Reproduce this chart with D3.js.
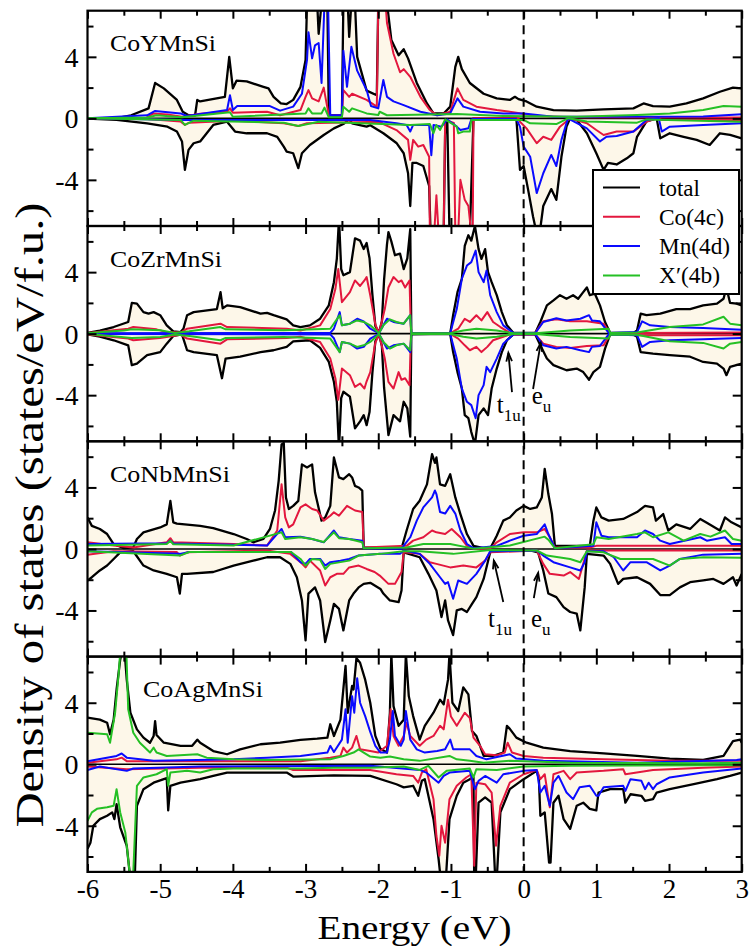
<!DOCTYPE html>
<html>
<head>
<meta charset="utf-8">
<script src="https://cdn.jsdelivr.net/npm/d3@7"></script>
<style>
  body{margin:0;background:#fff;}
</style>
</head>
<body>
<div id="chart"></div>
<script>
// ---- data: [energy (eV), DOS (states/eV/f.u.)], spin up > 0, spin down < 0 ----
const panelNames = ['CoYMnSi','CoZrMnSi','CoNbMnSi','CoAgMnSi'];
const legendLabels = ['total','Co(4c)','Mn(4d)','X\u2032(4b)'];
const xMajor = [-6,-5,-4,-3,-2,-1,0,1,2,3];
const xMinor = [-5.5,-4.5,-3.5,-2.5,-1.5,-0.5,0.5,1.5,2.5];
const yMajor = [-4,0,4];
const yMinor = [-6,-2,2,6];

// CoYMnSi
const totUp1=[[-6,0],[-5.6,0.02],[-5.4,0.2],[-5.16,0.65],[-5.07,2.3],[-4.95,1.95],[-4.77,1.2],[-4.69,0.43],[-4.61,0.2],[-4.52,0.2],[-4.49,1.2],[-4.45,1.1],[-4.11,1.4],[-4.05,4.0],[-4.0,1.95],[-3.95,2.45],[-3.81,2.4],[-3.58,2.05],[-3.51,1.95],[-3.44,1.4],[-3.34,0.97],[-3.26,0.93],[-3.17,1.2],[-3.07,2.05],[-3.0,3.8],[-2.98,7.5],[-2.84,7.5],[-2.82,5.5],[-2.78,7.5],[-2.7,7.5],[-2.68,0.2],[-2.5,0.2],[-2.48,7.5],[-2.42,7.5],[-2.4,5.3],[-2.37,7.5],[-2.32,7.5],[-2.29,4.0],[-2.16,1.8],[-2.02,1.5],[-2.0,7.5],[-1.88,7.5],[-1.82,5.1],[-1.72,4.1],[-1.65,4.5],[-1.59,3.9],[-1.47,2.3],[-1.33,0.97],[-1.24,0.32],[-1.1,0.32],[-1.01,0.76],[-0.94,3.35],[-0.9,4.0],[-0.85,3.2],[-0.74,2.3],[-0.55,1.6],[-0.37,1.3],[-0.19,1.2],[-0.12,1.4],[-0.07,1.25],[0.04,1.1],[0.18,0.76],[0.41,0.54],[0.73,0.5],[1.1,0.58],[1.51,0.65],[1.65,0.97],[1.78,0.8],[2.01,0.76],[2.24,0.97],[2.47,1.3],[2.7,1.73],[2.88,2.0],[3.0,1.95]];
const coUp1=[[-6,0],[-5.2,0.02],[-5.09,0.32],[-4.9,0.25],[-4.7,0.1],[-4.45,0.3],[-4.08,0.43],[-4.04,0.65],[-4.0,0.37],[-3.53,0.43],[-3.35,0.2],[-3.07,0.54],[-3.0,1.4],[-2.96,1.84],[-2.91,1.3],[-2.82,1.1],[-2.75,2.0],[-2.72,1.2],[-2.68,0.2],[-2.5,0.2],[-2.48,1.84],[-2.4,1.4],[-2.36,1.6],[-2.16,1.2],[-2.02,0.76],[-2.0,7.5],[-1.9,7.5],[-1.88,6.2],[-1.79,4.2],[-1.7,3.0],[-1.65,3.2],[-1.56,2.7],[-1.42,1.4],[-1.29,0.54],[-1.19,0.2],[-1.01,0.43],[-0.91,1.95],[-0.83,1.2],[-0.65,0.76],[-0.37,0.54],[-0.1,0.37],[0.18,0.15],[0.64,0.07],[3.0,0.05]];
const mnUp1=[[-6,0],[-5.18,0.2],[-5.07,0.48],[-4.72,0.32],[-4.63,0.15],[-4.45,0.28],[-4.08,0.54],[-4.04,1.5],[-4.0,0.54],[-3.94,0.8],[-3.49,0.8],[-3.35,0.5],[-3.17,0.76],[-3.05,1.6],[-2.98,3.8],[-2.96,5.6],[-2.91,3.9],[-2.87,4.75],[-2.82,4.9],[-2.78,2.3],[-2.74,7.5],[-2.69,7.5],[-2.66,0.2],[-2.5,0.2],[-2.48,4.4],[-2.43,2.05],[-2.37,4.65],[-2.29,3.1],[-2.16,1.84],[-2.1,0.8],[-2.0,0.65],[-1.93,2.5],[-1.88,1.4],[-1.79,1.1],[-1.65,0.86],[-1.42,0.43],[-1.19,0.2],[-1.01,0.32],[-0.91,1.3],[-0.83,0.76],[-0.6,0.43],[-0.28,0.32],[0,0.32],[0.41,0.1],[2.47,0.12],[3.0,0.26]];
const xUp1=[[-6,0],[-5.18,0.05],[-5.05,0.2],[-4.7,0.07],[-4.04,0.4],[-4.0,0.1],[-3.0,0.32],[-2.96,0.65],[-2.91,0.32],[-2.78,0.32],[-2.74,0.7],[-2.68,0.07],[-2.5,0.07],[-2.48,0.76],[-2.4,0.43],[-2.36,0.65],[-2.16,0.32],[-2.0,0.22],[-1.98,0.43],[-1.88,0.2],[-0.92,0.28],[-0.28,0.15],[0.73,0.1],[1.56,0.22],[2.01,0.32],[2.47,0.54],[2.75,0.8],[3.0,0.76]];
const totDn1=[[-6,-0.02],[-5.6,-0.1],[-5.18,-0.32],[-4.9,-0.54],[-4.77,-0.86],[-4.7,-1.5],[-4.66,-3.35],[-4.61,-2.05],[-4.54,-1.62],[-4.45,-1.5],[-4.27,-0.43],[-4.08,-0.22],[-3.97,-0.86],[-3.81,-0.97],[-3.53,-0.97],[-3.39,-1.2],[-3.3,-1.84],[-3.26,-2.16],[-3.17,-2.27],[-3.1,-3.24],[-3.05,-2.27],[-2.94,-1.73],[-2.75,-1.08],[-2.61,-0.65],[-2.48,-0.37],[-2.4,-0.07],[-2.36,-0.32],[-2.16,-0.54],[-2.11,-0.45],[-1.93,-0.97],[-1.75,-1.6],[-1.65,-2.27],[-1.59,-3.57],[-1.56,-5.7],[-1.53,-2.9],[-1.47,-2.9],[-1.38,-3.1],[-1.3,-4.4],[-1.28,-7.5],[-1.1,-7.5],[-1.08,-1.0],[-1.05,-0.2],[-1.02,-7.5],[-0.74,-7.5],[-0.69,0],[-0.1,0],[-0.05,-3.35],[0,-3.1],[0.06,-4.6],[0.13,-6.4],[0.18,-7.5],[0.22,-7.5],[0.27,-5.7],[0.38,-4.6],[0.45,-5.3],[0.52,-2.5],[0.59,-0.54],[0.64,0],[0.73,-0.1],[0.87,-0.97],[1.0,-2.27],[1.1,-3.35],[1.16,-2.9],[1.28,-3.0],[1.42,-2.6],[1.51,-2.27],[1.56,-1.2],[1.69,-0.2],[1.83,0],[1.88,-1.3],[2.01,-0.97],[2.2,-1.2],[2.38,-1.4],[2.56,-1.73],[2.7,-0.97],[2.84,-1.08],[3.0,-1.3]];
const coDn1=[[-6,0],[-5.18,-0.05],[-4.72,-0.2],[-4.66,-0.43],[-4.6,-0.28],[-4.0,-0.15],[-3.3,-0.32],[-3.1,-0.5],[-2.98,-0.32],[-1.97,-0.22],[-1.93,-0.37],[-1.75,-0.76],[-1.59,-1.4],[-1.56,-2.7],[-1.52,-1.4],[-1.45,-1.84],[-1.38,-1.73],[-1.3,-2.5],[-1.29,-7.5],[-1.23,-7.5],[-1.2,-5],[-1.17,-7.5],[-1.1,-7.5],[-1.08,-0.1],[-0.96,-0.3],[-0.94,-7.5],[-0.9,-7.5],[-0.87,-4.0],[-0.81,-5.3],[-0.76,-5.7],[-0.72,-7.5],[-0.7,-7.5],[-0.69,0],[-0.07,0],[-0.05,-0.22],[0.04,-0.65],[0.18,-1.62],[0.27,-1.2],[0.38,-1.4],[0.5,-0.54],[0.64,0],[0.87,-0.32],[1.0,-0.76],[1.1,-1.08],[1.28,-0.86],[1.51,-0.86],[1.69,-0.22],[1.83,0],[1.9,-0.1],[3.0,-0.1]];
const mnDn1=[[-6,0],[-4.66,-0.1],[-2.11,-0.1],[-1.75,-0.32],[-1.61,-0.43],[-1.56,-0.86],[-1.52,-0.43],[-1.3,-0.43],[-1.27,-2.4],[-1.24,-0.43],[-1.13,-0.54],[-1.05,-0.07],[-0.92,-0.54],[-0.87,-0.76],[-0.76,-0.65],[-0.72,-0.07],[-0.7,-0.05],[-0.1,-0.05],[-0.05,-0.54],[0,-1.84],[0.09,-2.5],[0.18,-4.86],[0.27,-3.57],[0.38,-2.38],[0.45,-3.1],[0.52,-1.4],[0.61,0],[0.87,-0.65],[1.05,-1.5],[1.14,-1.2],[1.28,-1.15],[1.51,-0.86],[1.69,-0.1],[1.86,0],[1.9,-0.86],[2.01,-0.54],[2.47,-0.43],[3.0,-0.32]];
const xDn1=[[-6,0],[-4.72,-0.1],[-4.66,-0.43],[-4.54,-0.15],[-3.3,-0.28],[-3.1,-0.5],[-2.82,-0.22],[-1.56,-0.43],[-1.29,-0.37],[-1.24,-0.97],[-1.2,-0.43],[-1.15,-0.76],[-1.08,-0.07],[-0.92,-0.54],[-0.9,-0.97],[-0.83,-0.86],[-0.74,-0.86],[-0.72,-0.1],[0,-0.1],[0.09,-0.32],[0.45,-0.37],[0.61,0],[0.87,-0.2],[1.56,-0.28],[1.69,-0.07],[3.0,-0.22]];

// CoZrMnSi
const totUp2=[[-6,0.05],[-5.83,0.2],[-5.64,0.43],[-5.44,0.76],[-5.41,1.5],[-5.39,2.0],[-5.32,1.95],[-5.23,1.4],[-5.16,1.3],[-5.09,1.4],[-5.0,1.2],[-4.91,0.54],[-4.82,0.15],[-4.72,0.1],[-4.68,0.32],[-4.63,1.2],[-4.54,1.4],[-4.22,1.6],[-4.17,2.7],[-4.14,1.65],[-4.08,1.84],[-3.9,1.73],[-3.62,1.3],[-3.53,1.35],[-3.44,1.2],[-3.26,0.93],[-3.17,0.54],[-3.07,0.43],[-2.94,0.54],[-2.8,0.97],[-2.68,1.84],[-2.61,3.35],[-2.57,4.87],[-2.54,7.5],[-2.51,4.2],[-2.48,3.8],[-2.39,4.0],[-2.32,6.2],[-2.25,6.05],[-2.2,5.5],[-2.16,5.9],[-2.12,4.9],[-2.08,2.5],[-2.04,0.5],[-1.99,0.05],[-1.95,0.8],[-1.92,3.5],[-1.88,5.8],[-1.86,6.6],[-1.82,6.0],[-1.77,5.1],[-1.7,5.2],[-1.65,4.2],[-1.6,4.9],[-1.56,6.8],[-1.545,0.05],[-1.01,0.02],[-0.97,1.2],[-0.91,2.7],[-0.85,3.57],[-0.81,5.7],[-0.76,6.4],[-0.72,6.05],[-0.67,7.0],[-0.62,5.5],[-0.58,4.86],[-0.53,5.5],[-0.49,4.0],[-0.44,3.35],[-0.37,2.5],[-0.3,1.4],[-0.23,0.54],[-0.14,0.05],[0.16,0.05],[0.23,0.76],[0.32,1.84],[0.41,2.16],[0.5,2.5],[0.59,2.27],[0.68,2.5],[0.75,2.27],[0.82,2.7],[0.87,3.0],[0.91,2.5],[0.98,2.6],[1.05,1.84],[1.12,0.76],[1.19,0.05],[1.51,0.05],[1.56,0.2],[1.61,1.3],[1.69,1.2],[1.88,1.3],[2.1,1.6],[2.29,1.6],[2.47,1.84],[2.66,1.95],[2.75,2.27],[2.79,3.0],[2.84,2.0],[2.93,1.95],[3.0,1.84]];
const coUp2=[[-6,0.05],[-5.44,0.32],[-5.37,0.43],[-5.05,0.28],[-4.91,0.1],[-4.72,0.07],[-4.63,0.32],[-4.17,0.65],[-4.08,0.43],[-3.26,0.32],[-3.07,0.2],[-2.8,0.54],[-2.66,1.6],[-2.59,2.9],[-2.55,4.2],[-2.5,2.05],[-2.39,2.7],[-2.32,3.46],[-2.25,3.1],[-2.19,3.46],[-2.16,3.68],[-2.11,2.5],[-2.04,0.6],[-1.99,0.02],[-1.91,1.6],[-1.86,3.0],[-1.79,3.68],[-1.72,3.35],[-1.68,3.46],[-1.63,3.0],[-1.57,3.46],[-1.55,0.02],[-1.01,0.02],[-0.9,0.32],[-0.81,0.97],[-0.74,0.76],[-0.65,1.2],[-0.58,0.86],[-0.5,1.4],[-0.42,0.76],[-0.32,0.43],[-0.19,0.05],[0.16,0.05],[0.27,0.8],[0.45,0.93],[0.64,0.8],[0.87,0.8],[1.1,0.65],[1.19,0.02],[1.56,0.05],[3.0,0.07]];
const mnUp2=[[-6,0.02],[-2.66,0.05],[-2.61,0.32],[-2.53,1.4],[-2.5,0.54],[-2.39,0.65],[-2.29,0.97],[-2.2,0.8],[-2.11,0.32],[-1.99,0.02],[-1.88,0.97],[-1.79,0.76],[-1.65,0.65],[-1.56,1.2],[-1.545,0.02],[-1.01,0.02],[-0.92,1.6],[-0.85,3.57],[-0.78,4.43],[-0.72,4.65],[-0.66,5.4],[-0.62,4.0],[-0.55,3.35],[-0.51,4.1],[-0.46,2.5],[-0.37,1.4],[-0.28,0.54],[-0.14,0.04],[0.16,0.04],[0.27,0.76],[0.45,1.0],[0.59,0.86],[0.78,0.97],[0.9,1.2],[0.94,0.86],[1.05,0.8],[1.17,0.05],[1.56,0.1],[1.63,0.8],[1.74,0.54],[2.01,0.43],[2.47,0.37],[3.0,0.26]];
const xUp2=[[-6,0.02],[-5.8,0.1],[-5.5,0.2],[-5.39,0.28],[-5.0,0.22],[-4.8,0.05],[-4.6,0.15],[-4.17,0.43],[-4.1,0.28],[-3.3,0.22],[-2.66,0.32],[-2.53,1.2],[-2.5,0.54],[-2.39,0.65],[-2.29,0.86],[-2.2,0.76],[-2.11,0.54],[-1.99,0.02],[-1.93,0.54],[-1.84,0.93],[-1.75,0.76],[-1.65,0.65],[-1.56,1.2],[-1.545,0.02],[-1.01,0.02],[-0.83,0.2],[-0.65,0.32],[-0.37,0.2],[-0.14,0.02],[0.16,0.02],[0.64,0.2],[1.17,0.32],[1.19,0.05],[1.56,0.07],[2.01,0.43],[2.47,0.6],[2.75,1.1],[2.84,0.65],[3.0,0.54]];
const totDn2=[[-6,-0.05],[-5.83,-0.2],[-5.64,-0.43],[-5.44,-0.76],[-5.39,-2.05],[-5.32,-1.95],[-5.18,-1.4],[-5.09,-1.3],[-5.0,-1.2],[-4.91,-0.65],[-4.82,-0.15],[-4.7,-0.05],[-4.63,-1.08],[-4.54,-1.2],[-4.22,-1.4],[-4.15,-2.9],[-4.1,-1.62],[-3.9,-1.5],[-3.62,-1.2],[-3.44,-1.08],[-3.26,-0.86],[-3.17,-0.5],[-2.94,-0.43],[-2.8,-0.93],[-2.68,-1.84],[-2.61,-3.13],[-2.57,-4.43],[-2.54,-7.5],[-2.51,-4.2],[-2.48,-3.78],[-2.39,-4.1],[-2.32,-6.16],[-2.25,-5.7],[-2.2,-5.3],[-2.16,-5.95],[-2.12,-5.1],[-2.08,-2.5],[-2.04,-0.5],[-1.99,-0.05],[-1.95,-0.8],[-1.92,-3.5],[-1.86,-6.6],[-1.79,-5.3],[-1.7,-5.7],[-1.65,-4.43],[-1.6,-4.86],[-1.56,-6.7],[-1.545,-0.05],[-1.01,-0.02],[-0.97,-1.2],[-0.91,-2.5],[-0.85,-3.57],[-0.81,-5.3],[-0.76,-5.5],[-0.72,-6.4],[-0.67,-7.2],[-0.62,-5.3],[-0.55,-4.86],[-0.49,-5.3],[-0.44,-3.57],[-0.37,-2.27],[-0.3,-1.2],[-0.23,-0.43],[-0.14,-0.05],[0.16,-0.05],[0.23,-0.76],[0.32,-1.62],[0.41,-2.05],[0.59,-2.38],[0.73,-2.27],[0.82,-2.5],[0.9,-3.0],[0.96,-2.5],[1.05,-2.16],[1.12,-0.97],[1.19,-0.05],[1.51,-0.05],[1.56,-0.2],[1.61,-1.2],[1.78,-1.3],[2.01,-1.4],[2.29,-1.5],[2.47,-1.84],[2.66,-1.95],[2.75,-2.27],[2.79,-2.7],[2.84,-2.16],[3.0,-1.95]];
const coDn2=[[-6,-0.05],[-5.44,-0.32],[-5.37,-0.43],[-5.0,-0.28],[-4.72,-0.07],[-4.63,-0.32],[-4.17,-0.65],[-4.08,-0.37],[-3.26,-0.28],[-3.07,-0.2],[-2.8,-0.54],[-2.66,-1.62],[-2.59,-2.9],[-2.55,-4.3],[-2.5,-2.27],[-2.39,-2.7],[-2.32,-3.46],[-2.25,-3.24],[-2.19,-3.57],[-2.16,-3.1],[-2.11,-2.5],[-2.04,-0.6],[-1.99,-0.02],[-1.91,-1.62],[-1.86,-3.13],[-1.79,-3.57],[-1.72,-2.5],[-1.68,-3.0],[-1.63,-2.9],[-1.57,-3.35],[-1.55,-0.02],[-1.01,-0.02],[-0.9,-0.32],[-0.81,-0.76],[-0.74,-1.08],[-0.65,-0.86],[-0.58,-1.2],[-0.5,-0.86],[-0.42,-0.43],[-0.19,-0.05],[0.16,-0.05],[0.27,-0.65],[0.45,-0.86],[0.64,-0.93],[0.87,-0.8],[1.1,-0.76],[1.19,-0.02],[1.56,-0.1],[3.0,-0.1]];
const mnDn2=[[-6,-0.02],[-2.66,-0.05],[-2.61,-0.3],[-2.53,-1.2],[-2.5,-0.54],[-2.39,-0.65],[-2.29,-0.97],[-2.2,-0.86],[-2.11,-0.32],[-1.99,-0.02],[-1.88,-0.97],[-1.79,-0.76],[-1.65,-0.65],[-1.56,-1.2],[-1.545,-0.02],[-1.01,-0.02],[-0.92,-1.62],[-0.85,-3.57],[-0.78,-4.43],[-0.72,-4.65],[-0.66,-5.5],[-0.62,-4.0],[-0.55,-3.35],[-0.51,-2.16],[-0.46,-2.5],[-0.37,-1.62],[-0.28,-0.65],[-0.14,-0.04],[0.16,-0.04],[0.27,-0.76],[0.45,-0.97],[0.59,-0.86],[0.78,-1.08],[0.9,-1.2],[0.94,-0.86],[1.05,-0.8],[1.17,-0.05],[1.56,-0.1],[1.63,-0.86],[1.74,-0.54],[2.01,-0.43],[2.47,-0.37],[3.0,-0.28]];
const xDn2=[[-6,-0.02],[-5.8,-0.1],[-5.39,-0.28],[-5.0,-0.22],[-4.8,-0.05],[-4.6,-0.15],[-4.17,-0.43],[-4.1,-0.28],[-3.3,-0.22],[-2.66,-0.32],[-2.53,-1.2],[-2.5,-0.54],[-2.39,-0.65],[-2.29,-0.86],[-2.2,-0.76],[-2.11,-0.54],[-1.99,-0.02],[-1.93,-0.54],[-1.84,-0.97],[-1.75,-0.76],[-1.65,-0.65],[-1.56,-1.08],[-1.545,-0.02],[-1.01,-0.02],[-0.83,-0.2],[-0.65,-0.32],[-0.37,-0.2],[-0.14,-0.02],[0.16,-0.02],[0.64,-0.22],[1.17,-0.32],[1.19,-0.05],[1.56,-0.07],[2.01,-0.5],[2.47,-0.6],[2.75,-0.97],[2.84,-0.65],[3.0,-0.54]];

// CoNbMnSi
const totUp3=[[-6,2.05],[-5.94,1.5],[-5.83,1.3],[-5.73,0.97],[-5.64,0.32],[-5.5,0.05],[-5.37,0.1],[-5.32,0.65],[-5.23,1.08],[-5.0,1.4],[-4.91,1.6],[-4.86,3.13],[-4.82,1.73],[-4.77,1.65],[-4.45,1.5],[-4.27,1.35],[-3.99,0.97],[-3.81,0.65],[-3.72,0.43],[-3.58,0.65],[-3.49,1.3],[-3.42,2.5],[-3.37,4.43],[-3.33,6.8],[-3.3,6.9],[-3.27,3.35],[-3.23,2.6],[-3.17,2.8],[-3.1,3.13],[-3.05,5.5],[-2.98,5.3],[-2.91,5.5],[-2.87,3.68],[-2.78,1.84],[-2.73,2.05],[-2.66,2.8],[-2.61,5.95],[-2.54,4.65],[-2.48,4.54],[-2.4,4.86],[-2.36,4.65],[-2.32,4.1],[-2.27,4.0],[-2.22,3.8],[-2.2,0.1],[-1.68,0.03],[-1.61,1.2],[-1.52,2.6],[-1.43,3.13],[-1.33,4.2],[-1.26,6.16],[-1.22,5.6],[-1.2,5.95],[-1.15,4.2],[-1.08,4.1],[-1.01,4.86],[-0.94,3.35],[-0.87,2.27],[-0.78,0.97],[-0.69,0.2],[-0.55,0.05],[-0.46,0.02],[-0.37,0.86],[-0.28,1.84],[-0.19,2.05],[-0.1,2.5],[0,2.8],[0.09,2.6],[0.18,2.7],[0.25,3.35],[0.29,5.2],[0.34,3.57],[0.39,2.27],[0.43,0.2],[0.91,0.2],[0.96,1.84],[1.0,2.7],[1.07,2.05],[1.17,1.84],[1.37,1.95],[1.56,2.4],[1.67,2.8],[1.78,2.7],[1.82,1.84],[1.92,2.27],[1.99,1.2],[2.1,1.6],[2.29,1.3],[2.43,1.95],[2.52,1.7],[2.7,1.2],[2.77,2.05],[2.86,1.73],[3.0,1.4]];
const coUp3=[[-6,0.43],[-5.64,0.22],[-5.37,0.1],[-4.91,0.43],[-4.86,0.7],[-4.82,0.43],[-3.99,0.32],[-3.53,0.22],[-3.39,1.2],[-3.33,4.2],[-3.28,2.05],[-3.23,1.4],[-3.17,1.6],[-3.07,2.7],[-3.0,2.9],[-2.91,2.6],[-2.84,2.5],[-2.75,1.84],[-2.66,2.16],[-2.61,2.38],[-2.54,2.16],[-2.43,2.8],[-2.32,2.5],[-2.22,2.4],[-2.2,0.1],[-1.61,0.2],[-1.52,0.54],[-1.38,0.76],[-1.26,1.2],[-1.2,1.08],[-1.08,0.97],[-0.99,1.3],[-0.87,0.76],[-0.78,0.2],[-0.69,0.02],[-0.46,0.02],[-0.37,0.43],[-0.19,0.97],[0,1.08],[0.18,1.08],[0.29,1.3],[0.36,0.76],[0.43,0.1],[0.91,0.1],[1.0,0.2],[3.0,0.2]];
const mnUp3=[[-6,0.32],[-4.91,0.37],[-4.86,0.54],[-4.82,0.35],[-3.53,0.22],[-3.33,1.3],[-3.28,0.76],[-3.07,0.8],[-2.91,0.65],[-2.75,0.43],[-2.61,1.2],[-2.54,0.76],[-2.4,0.65],[-2.22,0.54],[-2.2,0.05],[-1.68,0.02],[-1.56,0.76],[-1.47,1.84],[-1.38,2.7],[-1.26,3.35],[-1.22,3.8],[-1.2,3.57],[-1.15,2.4],[-1.08,2.3],[-1.01,2.8],[-0.94,2.3],[-0.87,1.2],[-0.78,0.32],[-0.69,0.05],[-0.37,0.2],[-0.19,0.54],[0,0.86],[0.18,0.97],[0.29,1.6],[0.34,0.97],[0.43,0.05],[0.96,0.2],[1.0,1.73],[1.07,0.86],[1.17,0.76],[1.56,0.76],[1.67,1.2],[1.78,0.97],[1.88,0.54],[2.01,0.32],[2.43,0.76],[2.52,0.54],[2.77,0.76],[2.86,0.32],[3.0,0.32]];
const xUp3=[[-6,0.22],[-4.91,0.32],[-4.86,0.54],[-4.82,0.3],[-3.99,0.22],[-3.33,1.08],[-3.28,0.65],[-3.07,0.76],[-2.91,0.65],[-2.75,0.45],[-2.61,1.08],[-2.54,0.7],[-2.4,0.65],[-2.22,0.43],[-2.2,0.05],[-1.61,0.1],[-1.38,0.32],[-1.01,0.32],[-0.69,0.02],[-0.19,0.22],[0.29,0.8],[0.34,0.6],[0.43,0.05],[0.96,0.3],[1.0,0.76],[1.17,0.65],[1.56,0.97],[1.67,1.08],[1.78,0.76],[1.99,1.08],[2.2,0.54],[2.43,0.97],[2.57,0.8],[2.77,1.2],[2.88,0.65],[3.0,0.54]];
const totDn3=[[-6,-2.05],[-5.94,-1.84],[-5.83,-1.4],[-5.73,-1.08],[-5.64,-0.65],[-5.55,-0.22],[-5.37,-0.15],[-5.23,-1.08],[-5.09,-1.4],[-4.91,-1.62],[-4.77,-1.84],[-4.73,-2.9],[-4.7,-1.62],[-4.63,-1.62],[-4.27,-1.5],[-3.99,-1.08],[-3.72,-0.76],[-3.53,-0.54],[-3.35,-0.54],[-3.21,-0.97],[-3.12,-1.84],[-3.05,-3.35],[-3.0,-5.95],[-2.96,-2.9],[-2.87,-2.5],[-2.8,-3.35],[-2.73,-6.05],[-2.66,-4.65],[-2.61,-3.57],[-2.54,-3.9],[-2.48,-5.3],[-2.4,-3.35],[-2.34,-2.9],[-2.27,-2.5],[-2.2,-2.27],[-2.11,-2.2],[-1.97,-2.6],[-1.93,-2.9],[-1.84,-3.35],[-1.72,-3.46],[-1.68,-2.7],[-1.65,-0.22],[-1.43,-0.54],[-1.31,-1.62],[-1.2,-2.7],[-1.13,-4.43],[-1.08,-3.35],[-1.04,-4.65],[-0.97,-5.6],[-0.92,-4.0],[-0.85,-3.9],[-0.78,-4.1],[-0.71,-3.57],[-0.65,-3.13],[-0.55,-1.95],[-0.46,-0.22],[-0.37,-0.07],[0.09,-0.1],[0.2,-0.22],[0.27,-1.4],[0.34,-2.9],[0.45,-3.13],[0.55,-3.78],[0.64,-4.1],[0.73,-4.2],[0.78,-5.3],[0.84,-2.5],[0.87,-0.32],[1.1,-0.43],[1.19,-0.97],[1.3,-2.27],[1.37,-1.95],[1.56,-1.84],[1.74,-2.27],[1.88,-3.0],[2.01,-3.0],[2.15,-2.5],[2.29,-2.16],[2.47,-2.05],[2.61,-1.95],[2.75,-2.27],[2.88,-1.84],[2.93,-2.38],[3.0,-1.62]];
const coDn3=[[-6,-0.37],[-5.64,-0.15],[-4.77,-0.2],[-4.73,-0.43],[-4.63,-0.22],[-3.53,-0.1],[-3.21,-0.32],[-3.07,-0.86],[-3.0,-1.2],[-2.94,-0.76],[-2.8,-1.4],[-2.73,-2.38],[-2.66,-1.84],[-2.57,-1.62],[-2.48,-1.62],[-2.4,-1.2],[-2.27,-1.08],[-2.16,-1.3],[-2.05,-1.5],[-1.98,-1.73],[-1.86,-2.27],[-1.77,-2.27],[-1.68,-1.5],[-1.65,-0.22],[-1.43,-0.32],[-1.29,-0.86],[-1.2,-0.97],[-1.01,-1.2],[-0.83,-1.08],[-0.65,-1.2],[-0.53,-0.76],[-0.46,-0.22],[0.18,-0.1],[0.27,-0.97],[0.36,-1.62],[0.55,-1.73],[0.64,-1.5],[0.76,-1.95],[0.82,-0.97],[0.87,-0.1],[3.0,-0.1]];
const mnDn3=[[-6,-0.15],[-4.73,-0.32],[-4.6,-0.2],[-3.2,-0.2],[-3.07,-0.86],[-3.0,-0.97],[-2.94,-0.65],[-2.8,-0.65],[-2.73,-1.08],[-2.66,-0.86],[-2.52,-0.76],[-2.4,-0.65],[-2.27,-0.43],[-1.97,-0.32],[-1.7,-0.32],[-1.65,-0.1],[-1.43,-0.32],[-1.29,-0.97],[-1.15,-1.84],[-1.08,-2.27],[-1.04,-2.16],[-0.97,-3.24],[-0.9,-2.05],[-0.78,-2.27],[-0.65,-1.62],[-0.53,-0.76],[-0.46,-0.15],[0.18,-0.1],[0.27,-0.43],[0.41,-0.86],[0.64,-1.2],[0.78,-1.4],[0.84,-0.86],[0.87,-0.15],[1.1,-0.15],[1.24,-0.54],[1.37,-1.4],[1.47,-0.86],[1.69,-0.86],[1.88,-1.4],[2.01,-1.08],[2.15,-0.65],[2.47,-0.37],[3.0,-0.32]];
const xDn3=[[-6,-0.15],[-4.73,-0.43],[-4.6,-0.2],[-3.2,-0.2],[-3.07,-0.65],[-3.0,-1.08],[-2.91,-0.65],[-2.8,-0.7],[-2.73,-1.3],[-2.66,-0.97],[-2.4,-0.76],[-2.27,-0.43],[-1.97,-0.32],[-1.65,-0.15],[-1.43,-0.15],[-0.97,-0.32],[-0.46,-0.07],[0.18,-0.1],[0.32,-0.43],[0.64,-0.65],[0.78,-0.86],[0.87,-0.15],[1.1,-0.22],[1.33,-0.65],[1.78,-0.65],[2.01,-1.08],[2.15,-0.65],[2.47,-0.54],[3.0,-0.58]];

// CoAgMnSi
const totUp4=[[-6,3.03],[-5.83,2.9],[-5.73,2.7],[-5.69,1.95],[-5.64,2.9],[-5.6,4.86],[-5.55,6.8],[-5.5,8],[-5.46,5.5],[-5.41,3.35],[-5.32,2.27],[-5.23,1.73],[-5.14,1.4],[-5.09,1.84],[-5.07,2.8],[-5.05,1.9],[-4.95,1.4],[-4.72,1.2],[-4.56,1.2],[-4.49,1.6],[-4.45,1.4],[-4.27,0.86],[-4.08,0.65],[-3.9,0.97],[-3.62,1.3],[-3.35,1.4],[-3.07,1.58],[-2.84,1.66],[-2.7,1.73],[-2.66,2.6],[-2.61,1.84],[-2.52,2.9],[-2.45,6.4],[-2.42,3.35],[-2.36,5.1],[-2.34,4.86],[-2.3,6.9],[-2.25,6.6],[-2.18,5.5],[-2.11,4.0],[-2.04,1.84],[-1.97,1.0],[-1.88,0.76],[-1.84,3.35],[-1.82,7.2],[-1.79,3.78],[-1.72,2.5],[-1.65,2.9],[-1.62,7.2],[-1.58,4.43],[-1.52,3.13],[-1.43,1.6],[-1.36,2.5],[-1.24,3.35],[-1.15,4.2],[-1.1,3.9],[-1.04,5.5],[-1.02,7.2],[-0.98,4.0],[-0.9,3.46],[-0.83,5.0],[-0.76,4.54],[-0.71,2.16],[-0.65,1.84],[-0.55,0.54],[-0.42,0.54],[-0.28,0.76],[-0.23,2.5],[-0.19,2.3],[-0.1,1.73],[0.04,1.4],[0.27,1.08],[0.64,0.86],[1.1,0.71],[1.56,0.54],[2.01,0.37],[2.47,0.28],[2.75,0.54],[2.88,1.5],[2.98,1.6],[3.0,1.4]];
const coUp4=[[-6,0.1],[-5.6,0.32],[-5.53,0.43],[-5.46,0.2],[-3.07,0.2],[-2.66,0.43],[-2.52,0.54],[-2.48,1.08],[-2.43,0.76],[-2.36,1.08],[-2.3,1.84],[-2.25,0.97],[-2.11,0.86],[-2.0,0.76],[-1.88,1.2],[-1.83,3.57],[-1.79,1.84],[-1.72,1.2],[-1.65,1.84],[-1.61,2.7],[-1.56,1.84],[-1.43,1.2],[-1.34,1.6],[-1.24,1.84],[-1.15,2.5],[-1.1,2.27],[-1.04,4.2],[-1.0,3.1],[-0.92,2.5],[-0.81,3.35],[-0.74,3.0],[-0.69,1.73],[-0.6,1.2],[-0.53,0.65],[-0.37,0.58],[-0.26,0.76],[-0.22,1.4],[-0.16,0.76],[0,0.54],[0.27,0.43],[1.1,0.32],[2.01,0.22],[3.0,0.22]];
const mnUp4=[[-6,0.2],[-5.6,0.54],[-5.53,0.7],[-5.46,0.43],[-5.09,0.22],[-4.49,0.28],[-3.99,0.32],[-3.53,0.43],[-3.07,0.54],[-2.7,0.76],[-2.66,1.2],[-2.61,0.8],[-2.5,1.6],[-2.45,3.57],[-2.42,1.4],[-2.36,4.43],[-2.33,3.35],[-2.29,5.6],[-2.25,4.0],[-2.18,3.13],[-2.11,2.1],[-2.04,1.2],[-1.97,0.76],[-1.88,0.76],[-1.84,1.6],[-1.8,3.46],[-1.77,1.84],[-1.69,1.2],[-1.65,1.6],[-1.62,3.46],[-1.56,1.6],[-1.47,0.97],[-1.36,0.76],[-1.19,0.86],[-1.08,0.97],[-1.01,1.6],[-0.97,0.97],[-0.74,0.97],[-0.65,0.54],[-0.51,0.32],[-0.19,0.65],[-0.1,0.37],[0.27,0.22],[1.56,0.1],[2.93,0.28],[3.0,0.32]];
const xUp4=[[-6,2.05],[-5.73,1.95],[-5.69,1.4],[-5.62,3.35],[-5.57,5.95],[-5.54,8],[-5.47,8],[-5.44,3.57],[-5.37,2.05],[-5.28,1.4],[-5.14,0.76],[-5.09,1.08],[-5.05,0.76],[-4.91,0.54],[-4.49,0.65],[-4.36,0.43],[-3.99,0.32],[-3.53,0.28],[-2.66,0.32],[-2.48,0.54],[-2.34,0.76],[-2.27,0.97],[-2.2,0.76],[-2.11,0.5],[-1.97,0.43],[-1.84,0.5],[-1.65,0.32],[-1.43,0.22],[-1.02,0.54],[-0.92,0.32],[-0.74,0.22],[-0.55,0.1],[-0.19,0.22],[0.64,0.1],[2.47,0.07],[3.0,0.1]];
const totDn4=[[-6,-5.5],[-5.96,-5.1],[-5.92,-4.0],[-5.83,-3.57],[-5.73,-3.35],[-5.66,-3.13],[-5.63,-3.57],[-5.6,-2.6],[-5.55,-4.1],[-5.46,-5.3],[-5.41,-7.5],[-5.35,-7.5],[-5.32,-2.7],[-5.23,-1.62],[-5.09,-1.2],[-4.95,-0.97],[-4.91,-0.9],[-4.89,-3.0],[-4.86,-1.4],[-4.72,-1.2],[-4.45,-0.97],[-4.27,-0.76],[-4.08,-0.54],[-3.26,-0.54],[-3.17,-0.8],[-2.84,-0.76],[-2.61,-0.72],[-2.11,-0.76],[-1.75,-1.3],[-1.65,-1.5],[-1.52,-1.4],[-1.45,-2.05],[-1.4,-1.08],[-1.36,-0.97],[-1.24,-3.57],[-1.17,-6.16],[-1.14,-7.5],[-1.07,-7.5],[-1.02,-3.57],[-0.92,-2.05],[-0.83,-1.2],[-0.74,-0.97],[-0.69,-0.86],[-0.68,-7.5],[-0.66,-7.5],[-0.62,-2.5],[-0.53,-2.16],[-0.44,-2.5],[-0.39,-7.5],[-0.37,-7.5],[-0.32,-3.13],[-0.19,-1.62],[0,-0.97],[0.18,-0.43],[0.21,-0.97],[0.23,-3.35],[0.29,-3.13],[0.35,-6.4],[0.37,-6.4],[0.41,-2.5],[0.48,-2.05],[0.55,-3.57],[0.64,-4.2],[0.73,-2.7],[0.82,-2.5],[0.91,-2.9],[1.0,-3.0],[1.03,-1.84],[1.19,-1.62],[1.37,-1.62],[1.4,-2.5],[1.47,-1.95],[1.62,-2.05],[1.67,-2.38],[1.78,-2.27],[1.83,-1.84],[2.01,-1.62],[2.34,-1.3],[2.66,-0.97],[2.84,-0.76],[3.0,-0.54]];
const coDn4=[[-6,-0.15],[-5.46,-0.32],[-4.45,-0.22],[-3.26,-0.22],[-3.17,-0.37],[-2.11,-0.37],[-1.75,-0.65],[-1.52,-0.76],[-1.45,-1.2],[-1.4,-0.54],[-1.34,-0.32],[-1.24,-2.27],[-1.2,-4.65],[-1.16,-5.95],[-1.13,-4.0],[-1.08,-5.1],[-1.02,-2.27],[-0.92,-1.4],[-0.79,-0.86],[-0.72,-0.65],[-0.68,-6.6],[-0.65,-1.2],[-0.53,-1.3],[-0.44,-1.84],[-0.38,-5.3],[-0.32,-2.7],[-0.19,-1.2],[0,-0.65],[0.18,-0.37],[0.23,-0.97],[0.29,-0.65],[0.36,-2.8],[0.41,-0.65],[0.55,-0.43],[0.64,-0.97],[0.73,-0.54],[1.1,-0.43],[1.37,-0.32],[1.4,-0.65],[1.78,-0.37],[2.47,-0.22],[3.0,-0.15]];
const mnDn4=[[-6,-0.37],[-5.83,-0.15],[-5.46,-0.43],[-5.37,-0.28],[-4.45,-0.15],[-2.11,-0.1],[-1.43,-0.37],[-1.34,-0.54],[-1.17,-1.2],[-1.1,-0.76],[-1.02,-0.54],[-0.74,-0.43],[-0.67,-1.62],[-0.62,-1.08],[-0.53,-0.76],[-0.37,-1.2],[-0.28,-0.65],[0,-0.43],[0.18,-0.37],[0.23,-1.84],[0.29,-1.4],[0.36,-2.7],[0.41,-1.2],[0.48,-0.76],[0.59,-1.84],[0.68,-2.27],[0.77,-1.5],[0.91,-1.4],[1.0,-2.05],[1.03,-2.05],[1.1,-1.5],[1.37,-1.4],[1.4,-1.73],[1.47,-0.97],[1.62,-1.08],[1.67,-1.62],[1.72,-1.2],[1.78,-1.62],[1.83,-1.3],[2.01,-0.86],[2.47,-0.54],[3.0,-0.28]];
const xDn4=[[-6,-3.68],[-5.94,-3.13],[-5.87,-2.9],[-5.73,-2.8],[-5.64,-2.7],[-5.6,-1.62],[-5.55,-3.13],[-5.48,-4.43],[-5.41,-7.5],[-5.37,-7.0],[-5.32,-1.4],[-5.23,-0.86],[-5.05,-0.65],[-4.91,-0.32],[-4.89,-1.4],[-4.86,-0.54],[-4.63,-0.43],[-4.45,-0.54],[-4.27,-0.32],[-3.99,-0.28],[-3.07,-0.28],[-2.61,-0.22],[-2.11,-0.22],[-1.65,-0.15],[-1.43,-0.37],[-1.31,-0.1],[-1.17,-0.86],[-1.06,-0.43],[-0.74,-0.28],[-0.69,-0.86],[-0.65,-0.32],[-0.37,-0.37],[0,-0.15],[0.64,-0.1],[2.47,-0.07],[3.0,-0.07]];

// annotations: [panel, label, subscript, arrow tail E, tail DOS, head E, head DOS, text E, text DOS]
const notes = [
  [1,'t','1u',-0.16,-3.8,-0.21,-1.25,-0.37,-5.15],
  [1,'e','u',0.13,-3.6,0.235,-0.6,0.11,-4.55],
  [2,'t','1u',-0.28,-3.45,-0.41,-0.75,-0.49,-5.1],
  [2,'e','u',0.14,-3.2,0.2,-1.55,0.1,-5.1]
];

// ---- pick an installed Times-like face (fallback: any serif) ----
function hasFont(f){
  const c = document.createElement('canvas').getContext('2d');
  const s = 'Density of states (eV) 0123456789';
  return ['monospace','sans-serif'].some(base=>{
    c.font = `40px ${base}`; const a = c.measureText(s).width;
    c.font = `40px '${f}', ${base}`; const b = c.measureText(s).width;
    return Math.abs(a-b) > 0.5;
  });
}
const face = ['Liberation Serif','Times New Roman','Tinos','Nimbus Roman','Nimbus Roman No9 L','FreeSerif','Noto Serif','DejaVu Serif']
  .find(hasFont);
const FONT = face ? `'${face}', serif` : 'serif';
const fmt = d => String(d); // plain hyphen minus, as in the figure

// ---- build ----
const panels = [
  {tot:[totUp1,totDn1], co:[coUp1,coDn1], mn:[mnUp1,mnDn1], xp:[xUp1,xDn1]},
  {tot:[totUp2,totDn2], co:[coUp2,coDn2], mn:[mnUp2,mnDn2], xp:[xUp2,xDn2]},
  {tot:[totUp3,totDn3], co:[coUp3,coDn3], mn:[mnUp3,mnDn3], xp:[xUp3,xDn3]},
  {tot:[totUp4,totDn4], co:[coUp4,coDn4], mn:[mnUp4,mnDn4], xp:[xUp4,xDn4]}
];
const colors = {tot:'#000000', co:'#e3173e', mn:'#0a0aff', xp:'#25c025'};
const labelW = [106,112,120,120];            // label widths in the figure
const legendW = [41,65,71,61];

const W=751, H=946;
const L=87.5, R=741.7, T=10.7, PH=215.3;
const svg = d3.select('#chart').append('svg').attr('width',W).attr('height',H)
  .attr('font-family',FONT);
svg.append('rect').attr('width',W).attr('height',H).attr('fill','#fff');

// squeeze a text to a given width if the face renders it wider/narrower
const fit = (t, w) => t.attr('textLength', w).attr('lengthAdjust','spacingAndGlyphs');

const x = d3.scaleLinear().domain([-6,3]).range([L,R]);

panels.forEach((p,i)=>{
  const top = T + i*PH;
  const y = d3.scaleLinear().domain([-7,7]).range([top+PH, top]);
  const g = svg.append('g');
  const cid = 'clip'+i;
  g.append('clipPath').attr('id',cid).append('rect')
    .attr('x',L).attr('y',top).attr('width',R-L).attr('height',PH);
  const body = g.append('g').attr('clip-path',`url(#${cid})`);

  const area = d3.area().x(d=>x(d[0])).y0(y(0)).y1(d=>y(d[1]));
  const line = d3.line().x(d=>x(d[0])).y(d=>y(d[1]));

  p.tot.forEach(s=> body.append('path').attr('d',area(s)).attr('fill','#fdf7e9'));
  body.append('line').attr('x1',L).attr('x2',R).attr('y1',y(0)).attr('y2',y(0))
    .attr('stroke','#000').attr('stroke-width',1.6);

  ['tot','co','mn','xp'].forEach(k=>{
    p[k].forEach(s=> body.append('path').attr('d',line(s)).attr('fill','none')
      .attr('stroke',colors[k]).attr('stroke-width',k==='tot'?2.3:2)
      .attr('stroke-linejoin','round'));
  });

  // axes with inward ticks
  const ax = (gen, tr, vals, size, lab, pad)=>{
    const a = g.append('g').attr('transform',tr)
      .call(gen.tickValues(vals).tickSize(-size).tickPadding(pad||9).tickFormat(lab?fmt:''));
    a.attr('font-family',null);
    a.select('.domain').remove();
    a.selectAll('line').attr('stroke','#000').attr('stroke-width',2);
    return a;
  };
  const last = i===panels.length-1;
  const xb = ax(d3.axisBottom(x), `translate(0,${top+PH})`, xMajor, 8, last, 7);
  ax(d3.axisBottom(x), `translate(0,${top+PH})`, xMinor, 5, false);
  ax(d3.axisTop(x), `translate(0,${top})`, xMajor, 8, false);
  ax(d3.axisTop(x), `translate(0,${top})`, xMinor, 5, false);
  const yl = ax(d3.axisLeft(y), `translate(${L},0)`, yMajor, 9, true);
  ax(d3.axisLeft(y), `translate(${L},0)`, yMinor, 6, false);
  ax(d3.axisRight(y), `translate(${R},0)`, yMajor, 9, false);
  ax(d3.axisRight(y), `translate(${R},0)`, yMinor, 6, false);
  yl.selectAll('text').attr('font-size',28).attr('fill','#000').attr('dy','0.34em');
  if(last) xb.selectAll('text').attr('font-size',27).attr('fill','#000').attr('dy','0.72em');

  g.append('rect').attr('x',L).attr('y',top).attr('width',R-L).attr('height',PH)
    .attr('fill','none').attr('stroke','#000').attr('stroke-width',2.2);

  fit(g.append('text').attr('x', i===3 ? 143 : 110).attr('y', top+40.5)
    .attr('font-size',24).text(panelNames[i]), labelW[i]);

  notes.filter(n=>n[0]===i).forEach(n=>{
    const [ , lab, sub, tx, ty, hx, hy, sx, sy] = n;
    const x1=x(tx), y1=y(ty), x2=x(hx), y2=y(hy);
    const ang = Math.atan2(y2-y1, x2-x1);
    g.append('line').attr('x1',x1).attr('y1',y1).attr('x2',x2).attr('y2',y2)
      .attr('stroke','#000').attr('stroke-width',1.8);
    const ah = 9, aw = 0.32;
    g.append('path').attr('d',
      `M${x2-ah*Math.cos(ang-aw)},${y2-ah*Math.sin(ang-aw)}L${x2},${y2}L${x2-ah*Math.cos(ang+aw)},${y2-ah*Math.sin(ang+aw)}`)
      .attr('fill','none').attr('stroke','#000').attr('stroke-width',1.8);
    const t = g.append('text').attr('x',x(sx)).attr('y',y(sy)).attr('font-size',25).text(lab);
    t.append('tspan').attr('dy',8).attr('font-size',17).text(sub);
  });
});

// Fermi level
svg.append('line').attr('x1',x(0)).attr('x2',x(0)).attr('y1',T).attr('y2',T+4*PH)
  .attr('stroke','#000').attr('stroke-width',2).attr('stroke-dasharray','9,5.5');

// legend
const lg = svg.append('g').attr('transform','translate(593,170)');
lg.append('rect').attr('width',146).attr('height',124).attr('fill','#fff')
  .attr('stroke','#000').attr('stroke-width',2);
['tot','co','mn','xp'].forEach((k,j)=>{
  const yy = 17.5 + j*29.3;
  lg.append('line').attr('x1',10).attr('x2',47).attr('y1',yy).attr('y2',yy)
    .attr('stroke',colors[k]).attr('stroke-width',2);
  fit(lg.append('text').attr('x',66).attr('y',yy+8).attr('font-size',23).text(legendLabels[j]), legendW[j]);
});

// axis titles
fit(svg.append('text').attr('x',(L+R)/2).attr('y',939).attr('text-anchor','middle')
  .attr('font-size',33).text('Energy (eV)'), 194);
fit(svg.append('text').attr('transform','translate(43,515) rotate(-90)').attr('text-anchor','middle')
  .attr('font-size',41).text('Density of states (states/eV/f.u.)'), 625);
</script>
</body>
</html>
